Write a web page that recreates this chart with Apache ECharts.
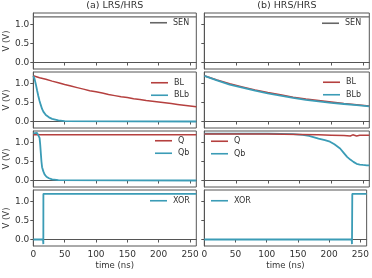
<!DOCTYPE html>
<html>
<head>
<meta charset="utf-8">
<script src="https://cdn.jsdelivr.net/npm/echarts@6/dist/echarts.min.js"></script>
<style>
  html, body { margin: 0; padding: 0; background: #fff; }
  #chart { width: 372px; height: 278px; }
</style>
</head>
<body>
<div id="chart"></div>
<script>
// ---- data (time in ns, voltage in V) ----
const xTicks = [0, 50, 100, 150, 200, 250];
const yTicks = [0, 0.5, 1.0];

// (a) LRS/HRS
const tSenA = [0, 260];
const senA = [1.2, 1.2];
const tBlA = [0, 10, 20, 30, 40, 50, 60, 70, 80, 90, 100, 110, 120, 130, 140, 150, 160, 170, 180, 190, 200, 210, 220, 230, 240, 250, 260];
const blA = [1.20, 1.15, 1.11, 1.06, 1.02, 0.97, 0.93, 0.89, 0.85, 0.81, 0.78, 0.75, 0.71, 0.68, 0.65, 0.63, 0.60, 0.58, 0.55, 0.53, 0.51, 0.49, 0.47, 0.45, 0.43, 0.41, 0.39];
const tBlbA = [0, 2, 4, 6, 8, 10, 12, 14, 16, 20, 25, 30, 40, 50, 260];
const blbA = [1.2, 1.12, 0.98, 0.82, 0.67, 0.54, 0.43, 0.33, 0.26, 0.17, 0.11, 0.07, 0.03, 0.01, 0];
const tQA = [0, 10, 13, 16, 260];
const qA = [1.2, 1.2, 1.17, 1.2, 1.2];
const tQbA = [0, 6, 9, 10, 11, 12, 13, 14, 16, 18, 21, 25, 30, 40, 260];
const qbA = [1.24, 1.25, 1.22, 1.12, 0.95, 0.72, 0.5, 0.35, 0.24, 0.16, 0.1, 0.06, 0.03, 0.01, 0];
const tXorA = [0, 15.5, 16, 16.1, 260];
const xorA = [0, 0, -0.12, 1.2, 1.2];

// (b) HRS/HRS
const tSenB = [0, 260];
const senB = [1.2, 1.2];
const tBlB = [0, 20, 40, 60, 80, 100, 120, 140, 160, 180, 200, 220, 240, 260];
const blB = [1.2, 1.09, 0.99, 0.91, 0.83, 0.76, 0.70, 0.64, 0.59, 0.55, 0.51, 0.47, 0.44, 0.41];
const blbB = [1.2, 1.08, 0.97, 0.89, 0.81, 0.74, 0.68, 0.62, 0.57, 0.53, 0.49, 0.46, 0.43, 0.40];
const tQB = [0, 100, 150, 180, 200, 220, 230, 234, 237, 240, 245, 260];
const qB = [1.22, 1.22, 1.21, 1.2, 1.19, 1.18, 1.17, 1.2, 1.23, 1.17, 1.19, 1.19];
const tQbB = [0, 100, 140, 155, 165, 180, 190, 198, 205, 214, 220, 225, 230, 235, 240, 245, 250, 256, 260];
const qbB = [1.23, 1.23, 1.22, 1.2, 1.17, 1.1, 1.06, 1.02, 0.95, 0.84, 0.72, 0.62, 0.55, 0.49, 0.44, 0.42, 0.41, 0.40, 0.40];
const tXorB = [0, 236, 236.5, 237, 260];
const xorB = [0, 0, -0.12, 1.2, 1.2];

const RED = "#b5403f";
const TEAL = "#3b9cb6";
const GREY = "#666666";
const TXT = "#333333";
const AX = "#555555";
const FONT = "DejaVu Sans";

function pairs(t, v) {
    return t.map((x, i) => [x, v[i]]);
}

const chart = echarts.init(document.getElementById("chart"), null, { renderer: "canvas" });

const tops = [13, 72, 131, 190];
const panelH = 56;
const cols = [{ left: 33.3, width: 163 }, { left: 204.3, width: 165 }];

const grids = [], xAxes = [], yAxes = [];
cols.forEach((c, ci) => {
    tops.forEach((t, ri) => {
        grids.push({
            left: c.left, top: t, width: c.width, height: panelH,
            show: true, borderColor: AX, borderWidth: 1, backgroundColor: "transparent"
        });
        const idx = grids.length - 1;
        const bottom = ri === 3;
        xAxes.push({
            type: "value", gridIndex: idx, min: 0, max: 260,
            name: bottom ? "time (ns)" : "",
            nameLocation: "middle", nameGap: 15,
            nameTextStyle: { fontSize: 8.5, color: TXT, fontFamily: FONT },
            axisLine: { show: true, lineStyle: { color: AX, width: 1 } },
            axisTick: { show: true, length: 3, customValues: xTicks, lineStyle: { color: AX } },
            axisLabel: { show: bottom, customValues: xTicks, margin: 4, fontSize: 9, color: TXT, fontFamily: FONT },
            splitLine: { show: false }
        });
        yAxes.push({
            type: "value", gridIndex: idx, min: -0.17, max: 1.3,
            name: ci === 0 ? "V (V)" : "",
            nameLocation: "middle", nameRotate: 90, nameGap: 22,
            nameTextStyle: { fontSize: 8.5, color: TXT, fontFamily: FONT },
            axisLine: { show: true, lineStyle: { color: AX, width: 1 } },
            axisTick: { show: true, length: 3, customValues: yTicks, lineStyle: { color: AX } },
            axisLabel: {
                show: ci === 0, customValues: yTicks, margin: 4, fontSize: 9, color: TXT, fontFamily: FONT,
                formatter: v => v.toFixed(1)
            },
            splitLine: { show: false }
        });
    });
});

function line(name, idx, data, color, width) {
    return {
        name: name, type: "line", xAxisIndex: idx, yAxisIndex: idx,
        data: data, showSymbol: false, symbol: "none", animation: false,
        lineStyle: { color: color, width: width }, itemStyle: { color: color }
    };
}

const series = [
    line("SEN", 0, pairs(tSenA, senA), GREY, 1.2),
    line("BL", 1, pairs(tBlA, blA), RED, 1.5),
    line("BLb", 1, pairs(tBlbA, blbA), TEAL, 1.8),
    line("Q", 2, pairs(tQA, qA), RED, 1.5),
    line("Qb", 2, pairs(tQbA, qbA), TEAL, 1.8),
    line("XOR", 3, pairs(tXorA, xorA), TEAL, 1.8),
    line("SEN", 4, pairs(tSenB, senB), GREY, 1.2),
    line("BL", 5, pairs(tBlB, blB), RED, 1.5),
    line("BLb", 5, pairs(tBlB, blbB), TEAL, 1.8),
    line("Qb", 6, pairs(tQbB, qbB), TEAL, 1.8),
    line("Q", 6, pairs(tQB, qB), RED, 1.5),
    line("XOR", 7, pairs(tXorB, xorB), TEAL, 1.8)
];

function legend(names, left, top) {
    return {
        data: names, left: left, top: top, orient: "vertical",
        padding: 0, itemGap: 3, itemWidth: 17, itemHeight: 1.6, icon: "rect",
        selectedMode: false,
        textStyle: { fontSize: 8, color: TXT, fontFamily: FONT, lineHeight: 9.5, padding: [0, 0, 0, 1] }
    };
}

const option = {
    animation: false,
    backgroundColor: "#ffffff",
    grid: grids,
    xAxis: xAxes,
    yAxis: yAxes,
    legend: [
        legend(["SEN"], 150, 18),
        legend(["BL", "BLb"], 151, 78),
        legend(["Q", "Qb"], 155, 136),
        legend(["XOR"], 150, 196),
        legend(["SEN"], 322, 18.5),
        legend(["BL", "BLb"], 323, 77.5),
        legend(["Q", "Qb"], 211, 136.5),
        legend(["XOR"], 211, 196)
    ],
    graphic: [
        { type: "text", x: 114.8, y: 6, style: { text: "(a) LRS/HRS", fontSize: 9.5, fill: TXT, fontFamily: FONT, textAlign: "center", textVerticalAlign: "middle" } },
        { type: "text", x: 286.8, y: 6, style: { text: "(b) HRS/HRS", fontSize: 9.5, fill: TXT, fontFamily: FONT, textAlign: "center", textVerticalAlign: "middle" } }
    ],
    series: series
};

chart.setOption(option);
</script>
</body>
</html>
